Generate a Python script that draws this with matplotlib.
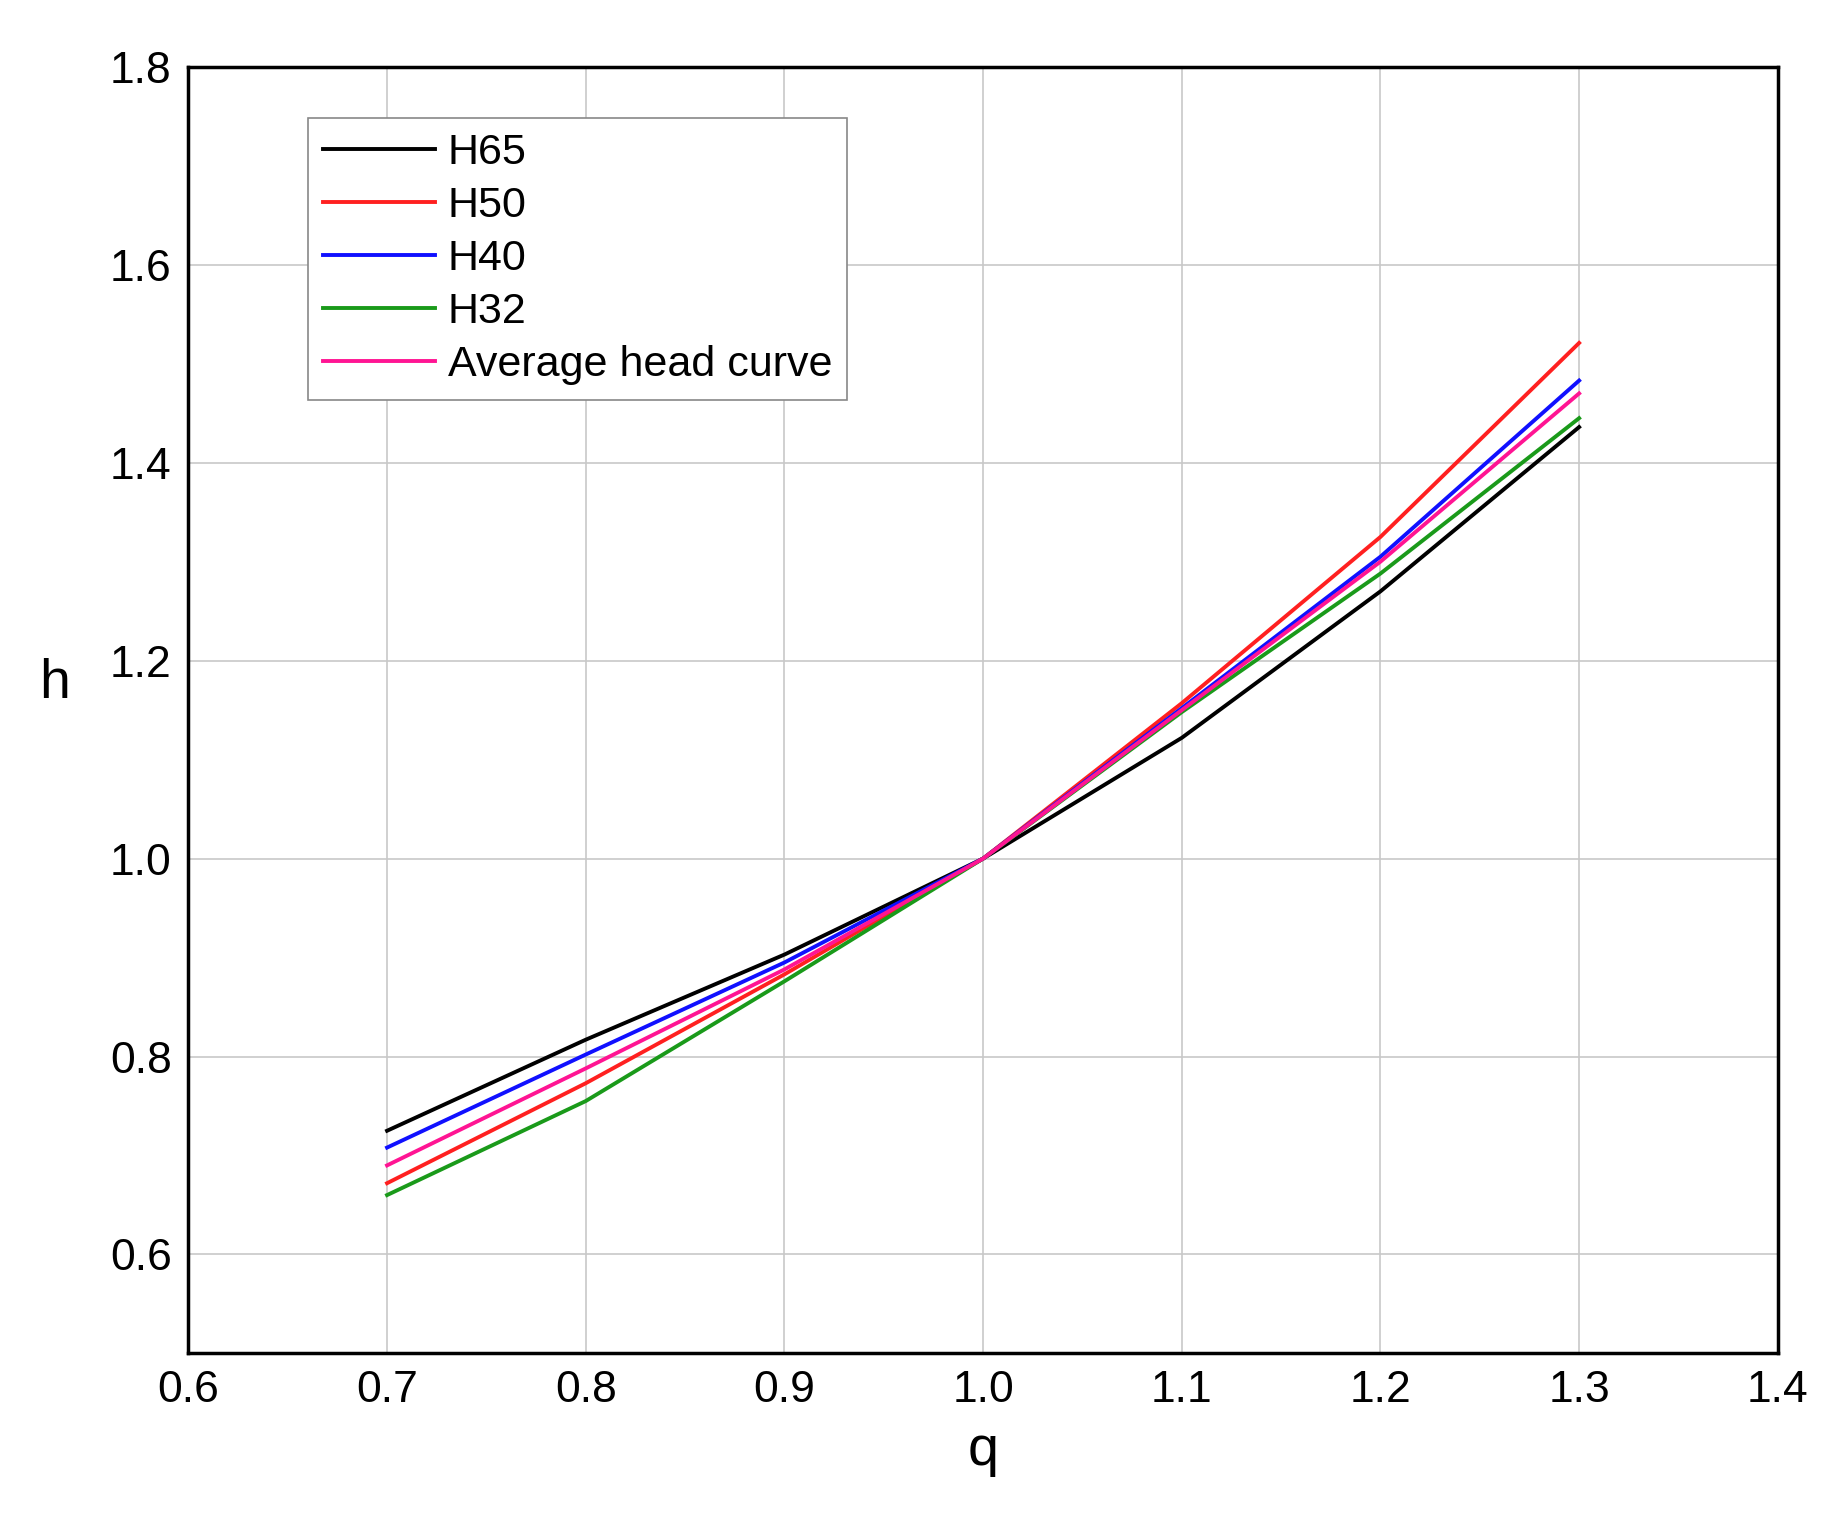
import matplotlib.pyplot as plt

plt.rcParams['font.family'] = ['Liberation Sans', 'DejaVu Sans']

q = [0.7, 0.8, 0.9, 1.0, 1.1, 1.2, 1.3]
h65 = [0.725, 0.817, 0.903, 1.0, 1.122, 1.270, 1.436]
h50 = [0.672, 0.773, 0.883, 1.0, 1.157, 1.325, 1.521]
h40 = [0.708, 0.802, 0.895, 1.0, 1.152, 1.305, 1.483]
h32 = [0.660, 0.755, 0.876, 1.0, 1.148, 1.288, 1.445]
avg = [0.690, 0.788, 0.888, 1.0, 1.150, 1.300, 1.470]

labels = ['H65', 'H50', 'H40', 'H32', 'Average head curve']
colors = ['black', '#ff2020', '#1010ff', '#1a9a1a', '#ff1493']

fig = plt.figure(figsize=(18.29, 15.19), dpi=100)
ax = fig.add_axes([0.103, 0.109, 0.869, 0.847])
for ys, lab, c in zip([h65, h50, h40, h32, avg], labels, colors):
    ax.plot(q, ys, color=c, linewidth=2.8, label=lab)

ax.set_xlim(0.6, 1.4)
ax.set_ylim(0.5, 1.8)
ax.set_xticks([0.6, 0.7, 0.8, 0.9, 1.0, 1.1, 1.2, 1.3, 1.4])
ax.set_yticks([0.6, 0.8, 1.0, 1.2, 1.4, 1.6, 1.8])
ax.grid(True, color='#c8c8c8', linewidth=1.2)
ax.tick_params(labelsize=32, length=0, pad=12)
for s in ax.spines.values():
    s.set_linewidth(2.5)
ax.set_xlabel('q', fontsize=40, labelpad=10)
ax.set_ylabel('h', fontsize=40, rotation=0, labelpad=40)

leg = ax.legend(loc='upper left', bbox_to_anchor=(0.075, 0.96), fontsize=31,
                fancybox=False, framealpha=1, edgecolor='#888888',
                handlelength=2.6, handletextpad=0.3, borderaxespad=0,
                labelspacing=0.3, borderpad=0.35)
leg.get_frame().set_linewidth(1.2)

fig.savefig('out.png')
